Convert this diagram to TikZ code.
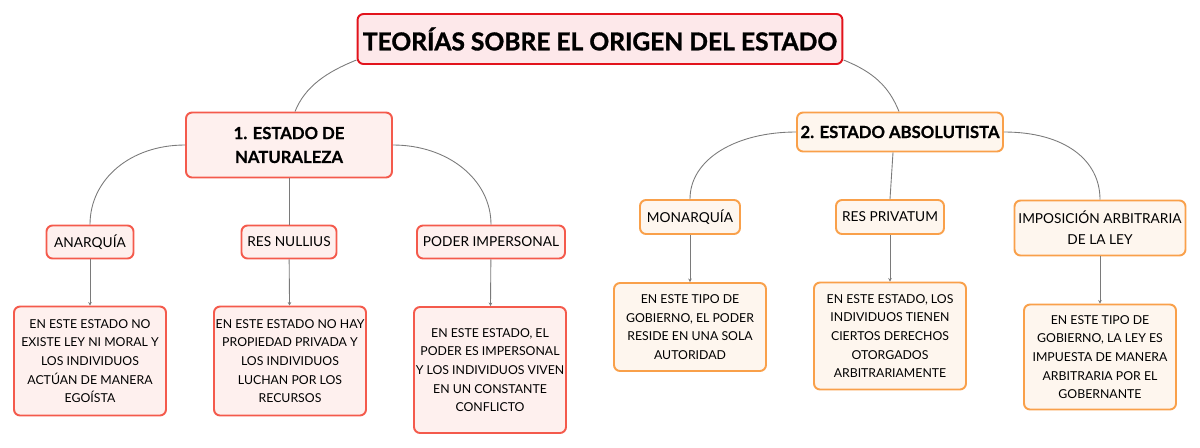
\documentclass[tikz,border=0pt]{standalone}
\usepackage{fontspec}
\setmainfont{Lato}
\newfontfamily\heavyfont[BoldFeatures={FakeBold=1.2}]{Lato}
\newfontfamily\semiheavyfont[BoldFeatures={FakeBold=0.6}]{Lato}
\usetikzlibrary{arrows.meta}
\definecolor{titlered}{HTML}{E2131C}
\definecolor{titlefill}{HTML}{FDE8EA}
\definecolor{natred}{HTML}{F45A4C}
\definecolor{natfill}{HTML}{FEF0EE}
\definecolor{absorange}{HTML}{F9A04A}
\definecolor{absfill}{HTML}{FEF6EE}
\definecolor{linkgray}{HTML}{7A7A7A}
\begin{document}
\begin{tikzpicture}[x=0.02cm, y=-0.02cm,
    box/.style ={rounded corners=0.12cm, line width=1.1pt, inner sep=0pt, align=center},
    maintitle/.style ={box, draw=titlered, fill=titlefill, font=\fontsize{14}{17}\selectfont\heavyfont\bfseries,
                       minimum width=9.7cm, minimum height=1cm},
    natbranch/.style ={box, draw=natred, fill=natfill, font=\fontsize{9.5}{13.6}\selectfont\semiheavyfont\bfseries},
    absbranch/.style ={box, draw=absorange, fill=absfill, font=\fontsize{9.5}{13.6}\selectfont\semiheavyfont\bfseries},
    natleaf/.style ={box, draw=natred, fill=natfill, font=\fontsize{7.8}{12}\selectfont},
    absleaf/.style ={box, draw=absorange, fill=absfill, font=\fontsize{7.8}{12}\selectfont},
    natnote/.style ={box, draw=natred, fill=natfill, font=\fontsize{7}{10.6}\selectfont, minimum width=3.04cm},
    absnote/.style ={box, draw=absorange, fill=absfill, font=\fontsize{7}{10.6}\selectfont, minimum width=3.04cm},
    link/.style ={draw=linkgray, line width=0.5pt},
    down/.style ={link, -{Stealth[length=2pt, width=2pt]}}]
   \useasboundingbox (0,0) rectangle (1200,447);

   % title
   \node[maintitle] (T) at (600,39) {TEORÍAS SOBRE EL ORIGEN DEL ESTADO};

   % branches
   \node[natbranch, minimum width=4.12cm, minimum height=1.3cm] (N1) at (289,145) {1. ESTADO DE\\NATURALEZA};
   \node[absbranch, minimum width=4.12cm, minimum height=0.78cm] (N2) at (900,132) {2. ESTADO ABSOLUTISTA};

   % second level
   \node[natleaf, minimum width=1.74cm, minimum height=0.66cm] (A1) at (90,242)  {ANARQUÍA};
   \node[natleaf, minimum width=1.9cm,  minimum height=0.66cm] (A2) at (289,242) {RES NULLIUS};
   \node[natleaf, minimum width=2.96cm, minimum height=0.66cm] (A3) at (491,242) {PODER IMPERSONAL};
   \node[absleaf, minimum width=2cm,    minimum height=0.68cm] (B1) at (690,217) {MONARQUÍA};
   \node[absleaf, minimum width=2.16cm, minimum height=0.68cm] (B2) at (890,217) {RES PRIVATUM};
   \node[absleaf, minimum width=3.42cm, minimum height=1.1cm]  (B3) at (1100,228) {IMPOSICIÓN ARBITRARIA\\DE LA LEY};

   % notes
   \node[natnote, minimum height=2.18cm] (C1) at (90,361)  {EN ESTE ESTADO NO\\EXISTE LEY NI MORAL Y\\LOS INDIVIDUOS\\ACTÚAN DE MANERA\\EGOÍSTA};
   \node[natnote, minimum height=2.18cm] (C2) at (290,361) {EN ESTE ESTADO NO HAY\\PROPIEDAD PRIVADA Y\\LOS INDIVIDUOS\\LUCHAN POR LOS\\RECURSOS};
   \node[natnote, minimum height=2.52cm] (C3) at (490,370) {EN ESTE ESTADO, EL\\PODER ES IMPERSONAL\\Y LOS INDIVIDUOS VIVEN\\EN UN CONSTANTE\\CONFLICTO};
   \node[absnote, minimum height=1.76cm] (D1) at (690,327) {EN ESTE TIPO DE\\GOBIERNO, EL PODER\\RESIDE EN UNA SOLA\\AUTORIDAD};
   \node[absnote, minimum height=2.14cm] (D2) at (890,336) {EN ESTE ESTADO, LOS\\INDIVIDUOS TIENEN\\CIERTOS DERECHOS\\OTORGADOS\\ARBITRARIAMENTE};
   \node[absnote, minimum height=2.1cm]  (D3) at (1100,357) {EN ESTE TIPO DE\\GOBIERNO, LA LEY ES\\IMPUESTA DE MANERA\\ARBITRARIA POR EL\\GOBERNANTE};

   % title to branches
   \draw[link] ([yshift=0.1cm]T.south west) .. controls +(-30,12) and +(10,-25) .. ([xshift=0.12cm]N1.north);
   \draw[link] ([yshift=0.1cm]T.south east) .. controls +(30,12) and +(-10,-25) .. ([xshift=-0.02cm]N2.north);

   % branch 1
   \draw[link] (N1.west) .. controls +(-55,0) and +(0,-45) .. (A1.north);
   \draw[link] (N1.south) -- (A2.north);
   \draw[link] (N1.east) .. controls +(55,0) and +(0,-45) .. (A3.north);

   % branch 2
   \draw[link] (N2.west) .. controls +(-60,0) and +(0,-40) .. (B1.north);
   \draw[link] ([xshift=-0.14cm]N2.south) -- (B2.north);
   \draw[link] (N2.east) .. controls +(60,0) and +(0,-40) .. (B3.north);

   % notes
   \draw[down] (A1) -- (C1);
   \draw[down] (A2) -- (C2);
   \draw[down] (A3) -- (C3);
   \draw[down] (B1) -- (D1);
   \draw[down] (B2) -- (D2);
   \draw[down] (B3) -- (D3);
\end{tikzpicture}
\end{document}
